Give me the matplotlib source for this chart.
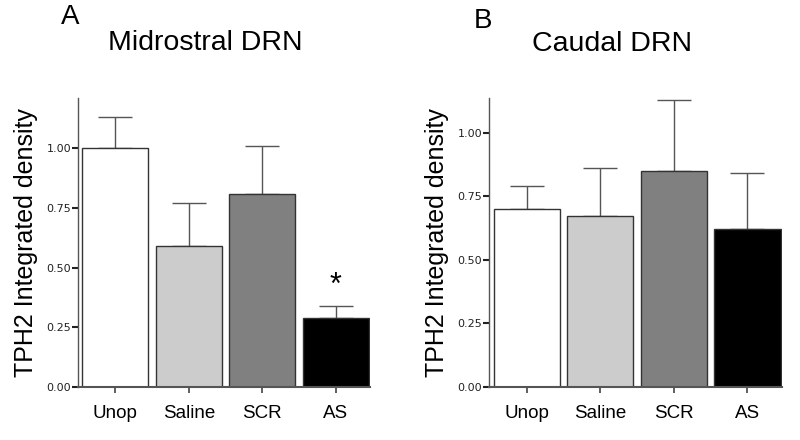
import matplotlib
matplotlib.use("Agg")
import matplotlib.pyplot as plt

# Data
groups = ["Unop", "Saline", "SCR", "AS"]
midrostral = [1.00, 0.59, 0.81, 0.29]
midrostral_err = [0.13, 0.18, 0.20, 0.05]
caudal = [0.70, 0.67, 0.85, 0.62]
caudal_err = [0.09, 0.19, 0.28, 0.22]
bar_colors = ["#ffffff", "#cccccc", "#808080", "#000000"]
ticks = [0.0, 0.25, 0.5, 0.75, 1.0]

plt.rcParams["font.family"] = ["Liberation Sans", "DejaVu Sans"]

fig = plt.figure(figsize=(8, 4.4), dpi=100)
fig.patch.set_facecolor("white")

W, H = 800, 440
def frac_axes(x0, x1, ytop, ybot):
    return fig.add_axes([x0 / W, 1 - ybot / H, (x1 - x0) / W, (ybot - ytop) / H])

ax1 = frac_axes(78, 370, 98.3, 386.7)
ax2 = frac_axes(489.3, 782, 98.3, 386.7)

panels = [
    (ax1, midrostral, midrostral_err, 1.21),
    (ax2, caudal, caudal_err, 1.135),
]

for ax, vals, errs, ytop in panels:
    x = range(len(groups))
    ax.bar(x, vals, width=0.9, color=bar_colors, edgecolor="#333333", linewidth=1.0, zorder=2)
    ax.errorbar(x, vals, yerr=[[0] * len(errs), errs], fmt="none", ecolor="#555555",
                elinewidth=1.0, capsize=12, capthick=1.0, zorder=1)
    ax.set_xlim(-0.51, 3.47)
    ax.set_ylim(0, ytop)
    ax.set_yticks(ticks)
    ax.set_yticklabels([f"{t:.2f}" for t in ticks], fontsize=8, family="DejaVu Sans", color="#222222")
    ax.set_xticks(list(x))
    ax.set_xticklabels(groups, fontsize=13.5)
    ax.tick_params(axis="y", length=4, width=1.5, color="#222222", pad=1)
    ax.tick_params(axis="x", length=4, width=1.2, color="#444444", pad=9)
    for s in ["top", "right"]:
        ax.spines[s].set_visible(False)
    ax.spines["left"].set_color("#555555")
    ax.spines["bottom"].set_color("#555555")
    ax.spines["left"].set_linewidth(1.0)
    ax.spines["bottom"].set_linewidth(1.5)
    ax.set_ylabel("TPH2 Integrated density", fontsize=18, labelpad=6)

fig.text(205 / W, 1 - 43 / H, "Midrostral DRN", fontsize=20.5, ha="center", va="center")
fig.text(612 / W, 1 - 44 / H, "Caudal DRN", fontsize=20.5, ha="center", va="center")
fig.text(70 / W, 1 - 17 / H, "A", fontsize=20, ha="center", va="center")
fig.text(483 / W, 1 - 21 / H, "B", fontsize=20, ha="center", va="center")

# significance star above AS
ax1.text(3, midrostral[3] + midrostral_err[3] + 0.02, "*", ha="center", va="bottom", fontsize=22)

fig.savefig("out.png", dpi=100)
